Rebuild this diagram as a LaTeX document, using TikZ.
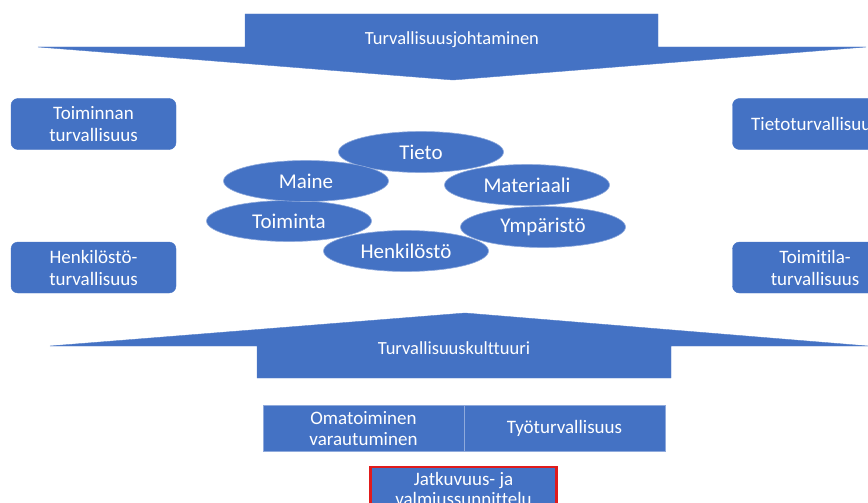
\documentclass[tikz,border=0pt]{standalone}
\usepackage{fontspec}
\setmainfont{Carlito}[Ligatures=NoCommon]
\usetikzlibrary{shapes.geometric}
\definecolor{obl}{HTML}{4472C4}
\definecolor{oedge}{HTML}{8FAADC}
\definecolor{ored}{HTML}{E01B1B}
\begin{document}
\begin{tikzpicture}[x=1pt,y=-1pt,
  txt/.style={text=white, align=center, font=\fontsize{19}{22}\selectfont},
  atxt/.style={text=white, font=\fontsize{18.5}{20}\selectfont},
  rbox/.style={txt, fill=obl, draw=obl, rounded corners=7pt, minimum width=165pt, minimum height=51pt, inner sep=0pt},
  sbox/.style={txt, fill=obl, draw=oedge, line width=0.5pt, minimum width=201pt, minimum height=46pt, inner sep=0pt, font=\fontsize{19}{21}\selectfont},
  ell/.style={ellipse, fill=obl, draw=oedge, line width=0.6pt, minimum width=165pt, minimum height=41pt, inner sep=0pt, text=white, font=\fontsize{21}{22}\selectfont},
  bigarrow/.style={fill=obl, draw=obl!90!white, line width=0.4pt}]
\useasboundingbox (0,0) rectangle (868,503);
\clip (0,0) rectangle (868,503);
% top arrow
\path[bigarrow] (245,14) -- (658,14) -- (658,47) -- (866,47) -- (453,80) -- (38,47) -- (245,47) -- cycle;
\node[atxt] (lead) at (452,40) {Turvallisuusjohtaminen};
% bottom arrow
\path[bigarrow] (465,313) -- (868,346) -- (671,346) -- (671,378) -- (257,378) -- (257,346) -- (50,346) -- cycle;
\node[atxt] (cult) at (454,348) {Turvallisuuskulttuuri};
% side boxes
\node[rbox] (toim) at (93.5,124) {Toiminnan\\turvallisuus};
\node[rbox] (henk) at (93.5,267.5) {Henkilöstö-\\turvallisuus};
\node[rbox] (tieto) at (815,124) {Tietoturvallisuus};
\node[rbox] (tila) at (815,267.5) {Toimitila-\\turvallisuus};
% ellipses
\node[ell] (e1) at (421,152) {Tieto};
\node[ell] (e2) at (527,185) {Materiaali};
\node[ell] (e3) at (543,227) {Ympäristö};
\node[ell] (e4) at (289,221) {Toiminta};
\node[ell] (e5) at (306,181) {Maine};
\node[ell] (e6) at (406,251) {Henkilöstö};
% bottom boxes
\node[sbox] (oma) at (363.5,428.5) {Omatoiminen\\varautuminen};
\node[sbox] (tyo) at (564.5,428.5) {Työturvallisuus};
\node[sbox, draw=ored, line width=2.5pt, minimum width=186pt, minimum height=44pt, anchor=north, font=\fontsize{19}{20}\selectfont] (jatk) at (463.5,465.5) {Jatkuvuus- ja\\valmiussunnittelu};
\end{tikzpicture}
\end{document}
